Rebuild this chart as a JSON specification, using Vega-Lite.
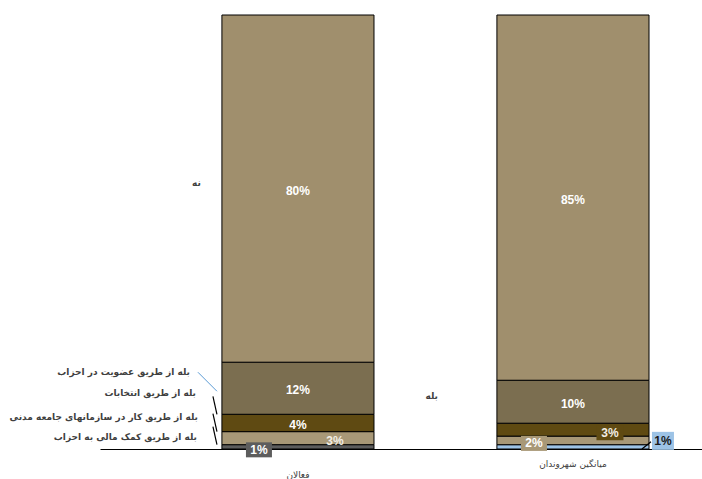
{
  "$schema": "https://vega.github.io/schema/vega-lite/v6.json",
  "width": 602,
  "height": 434,
  "autosize": {"type": "none"},
  "padding": {"left": 100, "top": 15, "right": 0, "bottom": 30},
  "background": "white",
  "config": {"view": {"stroke": null}},
  "data": {"values": [
    {"group": "فعالان", "part": "بله از طریق کمک مالی به احزاب", "order": 1, "value": 1, "label": "1%"},
    {"group": "فعالان", "part": "بله از طریق کار در سازمانهای جامعه مدنی", "order": 2, "value": 3, "label": "3%"},
    {"group": "فعالان", "part": "بله از طریق انتخابات", "order": 3, "value": 4, "label": "4%"},
    {"group": "فعالان", "part": "بله از طریق عضویت در احزاب", "order": 4, "value": 12, "label": "12%"},
    {"group": "فعالان", "part": "نه", "order": 5, "value": 80, "label": "80%"},
    {"group": "میانگین شهروندان", "part": "بله از طریق کمک مالی به احزاب", "order": 1, "value": 1, "label": "1%"},
    {"group": "میانگین شهروندان", "part": "بله از طریق کار در سازمانهای جامعه مدنی", "order": 2, "value": 2, "label": "2%"},
    {"group": "میانگین شهروندان", "part": "بله از طریق انتخابات", "order": 3, "value": 3, "label": "3%"},
    {"group": "میانگین شهروندان", "part": "بله از طریق عضویت در احزاب", "order": 4, "value": 10, "label": "10%"},
    {"group": "میانگین شهروندان", "part": "نه", "order": 5, "value": 85, "label": "85%"}
  ]},
  "transform": [
    {"stack": "value", "groupby": ["group"], "sort": [{"field": "order", "order": "ascending"}], "as": ["y0", "y1"], "offset": "normalize"},
    {"calculate": "(datum.y0 + datum.y1) / 2", "as": "mid"}
  ],
  "encoding": {
    "x": {
      "field": "group", "type": "nominal", "sort": ["فعالان", "میانگین شهروندان"],
      "scale": {"paddingInner": 0.447, "paddingOuter": 0.318, "align": 0.697},
      "axis": {
        "title": null, "ticks": false, "labelAngle": 0, "domainColor": "#000000", "domainWidth": 1,
        "labelFont": "DejaVu Sans", "labelFontSize": 9, "labelColor": "#404040",
        "labelPadding": {"condition": {"test": "datum.value === 'فعالان'", "value": 21}, "value": 10}
      }
    }
  },
  "layer": [
    {
      "mark": {"type": "bar", "stroke": "#000000", "strokeWidth": 1},
      "encoding": {
        "y": {"field": "y0", "type": "quantitative", "scale": {"domain": [0, 1], "nice": false, "zero": true}, "axis": null},
        "y2": {"field": "y1"},
        "color": {
          "condition": {"test": "datum.group === 'میانگین شهروندان' && datum.order === 1", "value": "#9DC3E6"},
          "field": "part", "type": "nominal", "legend": null,
          "scale": {
            "domain": ["بله از طریق کمک مالی به احزاب", "بله از طریق کار در سازمانهای جامعه مدنی", "بله از طریق انتخابات", "بله از طریق عضویت در احزاب", "نه"],
            "range": ["#5D5D5D", "#A89877", "#5F4A12", "#7B6E50", "#A08F6D"]
          }
        }
      }
    },
    {
      "transform": [{"filter": "datum.value >= 4"}],
      "mark": {"type": "text", "font": "Liberation Sans", "fontWeight": "bold", "fontSize": 12, "color": "#FFFFFF", "dy": 2, "baseline": "middle"},
      "encoding": {"y": {"field": "mid", "type": "quantitative"}, "text": {"field": "label"}}
    },
    {
      "transform": [{"filter": "(datum.group === 'فعالان' && datum.value === 1) || datum.value === 2"}],
      "mark": {"type": "rect", "width": 26, "height": 15, "xOffset": -39, "yOffset": 3},
      "encoding": {
        "y": {"field": "mid", "type": "quantitative"},
        "color": {
          "field": "part", "type": "nominal", "legend": null,
          "scale": {
            "domain": ["بله از طریق کمک مالی به احزاب", "بله از طریق کار در سازمانهای جامعه مدنی", "بله از طریق انتخابات", "بله از طریق عضویت در احزاب", "نه"],
            "range": ["#5D5D5D", "#A89877", "#5F4A12", "#7B6E50", "#A08F6D"]
          }
        }
      }
    },
    {
      "transform": [{"filter": "(datum.group === 'فعالان' && datum.value === 1) || datum.value === 2"}],
      "mark": {"type": "text", "font": "Liberation Sans", "fontWeight": "bold", "fontSize": 12, "color": "#FFFFFF", "dx": -39, "dy": 3, "baseline": "middle"},
      "encoding": {"y": {"field": "mid", "type": "quantitative"}, "text": {"field": "label"}}
    },
    {
      "transform": [{"filter": "datum.value === 3 && datum.group === 'میانگین شهروندان'"}],
      "mark": {"type": "rect", "width": 27, "height": 15, "xOffset": 37, "yOffset": 3},
      "encoding": {
        "y": {"field": "mid", "type": "quantitative"},
        "color": {
          "field": "part", "type": "nominal", "legend": null,
          "scale": {
            "domain": ["بله از طریق کمک مالی به احزاب", "بله از طریق کار در سازمانهای جامعه مدنی", "بله از طریق انتخابات", "بله از طریق عضویت در احزاب", "نه"],
            "range": ["#5D5D5D", "#A89877", "#5F4A12", "#7B6E50", "#A08F6D"]
          }
        }
      }
    },
    {
      "transform": [{"filter": "datum.value === 3"}],
      "mark": {"type": "text", "font": "Liberation Sans", "fontWeight": "bold", "fontSize": 12, "color": "#F2EEE6", "dx": 37, "dy": 3, "baseline": "middle"},
      "encoding": {"y": {"field": "mid", "type": "quantitative"}, "text": {"field": "label"}}
    },
    {
      "transform": [{"filter": "datum.group === 'میانگین شهروندان' && datum.value === 1"}],
      "mark": {"type": "rect", "width": 22, "height": 18, "xOffset": 90, "yOffset": -6, "color": "#9DC3E6"},
      "encoding": {"y": {"field": "mid", "type": "quantitative"}}
    },
    {
      "transform": [{"filter": "datum.group === 'میانگین شهروندان' && datum.value === 1"}],
      "mark": {"type": "text", "font": "Liberation Sans", "fontWeight": "bold", "fontSize": 12, "color": "#1A1A1A", "dx": 90, "dy": -6, "baseline": "middle"},
      "encoding": {"y": {"field": "mid", "type": "quantitative"}, "text": {"field": "label"}}
    },
    {
      "transform": [{"filter": "datum.group === 'فعالان' && datum.order === 4"}],
      "mark": {"type": "rule", "color": "#5B9BD5", "strokeWidth": 1, "xOffset": -100, "x2Offset": -81, "yOffset": -16, "y2Offset": 3},
      "encoding": {
        "x": {"field": "group", "type": "nominal", "bandPosition": 0.5},
        "x2": {"field": "group", "bandPosition": 0.5},
        "y": {"field": "mid", "type": "quantitative"},
        "y2": {"field": "mid"}
      }
    },
    {
      "transform": [{"filter": "datum.group === 'فعالان' && datum.order >= 2 && datum.order <= 4"}],
      "mark": {"type": "rule", "color": "#000000", "strokeWidth": 1.2, "xOffset": -85, "x2Offset": -81, "yOffset": -18, "y2Offset": 0},
      "encoding": {
        "x": {"field": "group", "type": "nominal", "bandPosition": 0.5},
        "x2": {"field": "group", "bandPosition": 0.5},
        "y": {"field": "y0", "type": "quantitative"},
        "y2": {"field": "y0"}
      }
    },
    {
      "transform": [{"filter": "datum.group === 'میانگین شهروندان' && datum.order === 1"}],
      "mark": {"type": "rule", "color": "#000000", "strokeWidth": 1.2, "xOffset": 69, "x2Offset": 78, "yOffset": 0, "y2Offset": -3},
      "encoding": {
        "x": {"field": "group", "type": "nominal", "bandPosition": 0.5},
        "x2": {"field": "group", "bandPosition": 0.5},
        "y": {"field": "y0", "type": "quantitative"},
        "y2": {"field": "y1"}
      }
    },
    {
      "transform": [{"filter": "datum.group === 'فعالان' && datum.order === 4"}],
      "mark": {"type": "text", "font": "DejaVu Sans", "fontWeight": "bold", "fontSize": 9, "color": "#404040", "align": "right", "baseline": "middle", "dx": -108, "dy": -16},
      "encoding": {"y": {"field": "mid", "type": "quantitative"}, "text": {"field": "part"}}
    },
    {
      "transform": [{"filter": "datum.group === 'فعالان' && datum.order === 3"}],
      "mark": {"type": "text", "font": "DejaVu Sans", "fontWeight": "bold", "fontSize": 9, "color": "#404040", "align": "right", "baseline": "middle", "dx": -102, "dy": -30},
      "encoding": {"y": {"field": "mid", "type": "quantitative"}, "text": {"field": "part"}}
    },
    {
      "transform": [{"filter": "datum.group === 'فعالان' && datum.order === 2"}],
      "mark": {"type": "text", "font": "DejaVu Sans", "fontWeight": "bold", "fontSize": 9, "color": "#404040", "align": "right", "baseline": "middle", "dx": -100, "dy": -21},
      "encoding": {"y": {"field": "mid", "type": "quantitative"}, "text": {"field": "part"}}
    },
    {
      "transform": [{"filter": "datum.group === 'فعالان' && datum.order === 1"}],
      "mark": {"type": "text", "font": "DejaVu Sans", "fontWeight": "bold", "fontSize": 9, "color": "#404040", "align": "right", "baseline": "middle", "dx": -101, "dy": -10},
      "encoding": {"y": {"field": "mid", "type": "quantitative"}, "text": {"field": "part"}}
    },
    {
      "transform": [{"filter": "datum.group === 'فعالان' && datum.order === 5"}],
      "mark": {"type": "text", "font": "DejaVu Sans", "fontWeight": "bold", "fontSize": 9, "color": "#404040", "align": "right", "baseline": "middle", "dx": -97, "dy": -6},
      "encoding": {"y": {"field": "mid", "type": "quantitative"}, "text": {"field": "part"}}
    },
    {
      "transform": [{"filter": "datum.group === 'میانگین شهروندان' && datum.order === 4"}],
      "mark": {"type": "text", "text": "بله", "font": "DejaVu Sans", "fontWeight": "bold", "fontSize": 9, "color": "#404040", "align": "right", "baseline": "middle", "dx": -135, "dy": -6},
      "encoding": {"y": {"field": "mid", "type": "quantitative"}}
    }
  ]
}
